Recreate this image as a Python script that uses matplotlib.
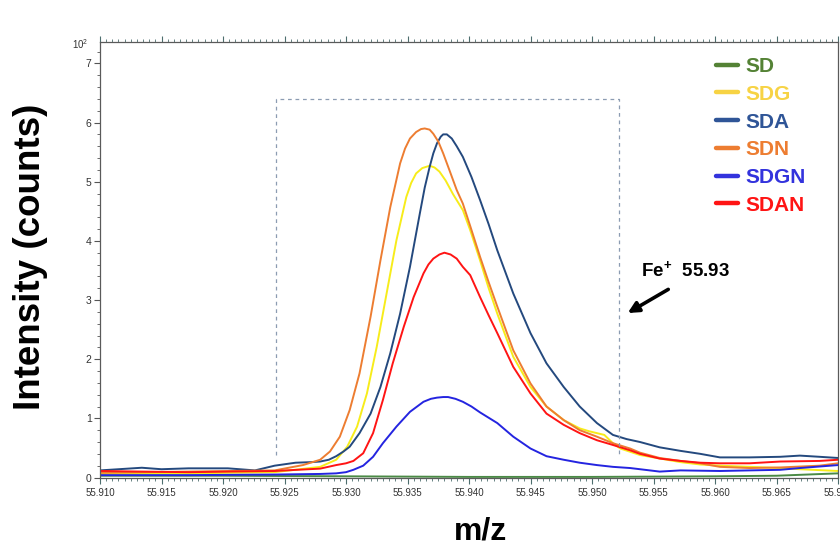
import matplotlib
matplotlib.use("Agg")
import matplotlib.pyplot as plt
from matplotlib.ticker import MultipleLocator, FormatStrFormatter
from matplotlib.font_manager import FontProperties

plt.rcParams['font.family'] = ['Liberation Sans', 'DejaVu Sans']
plt.rcParams['mathtext.fontset'] = 'custom'
plt.rcParams['mathtext.bf'] = 'Liberation Sans:bold'
plt.rcParams['mathtext.rm'] = 'Liberation Sans'

# ---------------- data (intensity in units of 10^2 counts) ----------------
sd_x = [55.9100, 55.9200, 55.9300, 55.9400, 55.9500, 55.9600, 55.9650, 55.9700]
sd_y = [0.03, 0.03, 0.02, 0.01, 0.01, 0.02, 0.03, 0.07]

sdg_x = [55.9100, 55.9172, 55.9242, 55.9279, 55.9292, 55.9301, 55.9309, 55.9317,
         55.9325, 55.9333, 55.9341, 55.9349, 55.9353, 55.9357, 55.9362, 55.9368,
         55.9372, 55.9376, 55.9381, 55.9387, 55.9395, 55.9401, 55.9409, 55.9416,
         55.9423, 55.9436, 55.9450, 55.9463, 55.9477, 55.9490, 55.9498, 55.9504,
         55.9510, 55.9517, 55.9523, 55.9539, 55.9572, 55.9588, 55.9604, 55.9628,
         55.9653, 55.9669, 55.9700]
sdg_y = [0.06, 0.07, 0.09, 0.18, 0.30, 0.52, 0.86, 1.42,
         2.21, 3.11, 4.01, 4.74, 4.98, 5.14, 5.23, 5.27,
         5.24, 5.17, 5.02, 4.79, 4.52, 4.18, 3.67, 3.20,
         2.77, 2.04, 1.53, 1.20, 0.97, 0.83, 0.78, 0.75,
         0.72, 0.58, 0.49, 0.38, 0.26, 0.22, 0.20, 0.18,
         0.16, 0.14, 0.11]

sda_x = [55.9100, 55.9134, 55.9150, 55.9172, 55.9204, 55.9226, 55.9242, 55.9259,
         55.9272, 55.9279, 55.9286, 55.9292, 55.9298, 55.9303, 55.9311, 55.9320,
         55.9328, 55.9336, 55.9344, 55.9352, 55.9360, 55.9364, 55.9368, 55.9371,
         55.9374, 55.9377, 55.9379, 55.9382, 55.9386, 55.9390, 55.9395, 55.9402,
         55.9409, 55.9416, 55.9423, 55.9436, 55.9450, 55.9463, 55.9477, 55.9490,
         55.9504, 55.9517, 55.9528, 55.9539, 55.9555, 55.9572, 55.9588, 55.9604,
         55.9628, 55.9653, 55.9669, 55.9685, 55.9700]
sda_y = [0.12, 0.165, 0.14, 0.155, 0.155, 0.12, 0.20, 0.25,
         0.26, 0.27, 0.30, 0.36, 0.44, 0.52, 0.75, 1.08,
         1.53, 2.10, 2.77, 3.56, 4.46, 4.90, 5.25, 5.48,
         5.65, 5.76, 5.80, 5.80, 5.73, 5.60, 5.42, 5.08,
         4.69, 4.28, 3.84, 3.11, 2.44, 1.93, 1.53, 1.20,
         0.92, 0.72, 0.65, 0.60, 0.51, 0.45, 0.40, 0.34,
         0.34, 0.35, 0.37, 0.35, 0.33]

sdn_x = [55.9100, 55.9172, 55.9242, 55.9265, 55.9279, 55.9287, 55.9295, 55.9303,
         55.9311, 55.9320, 55.9328, 55.9336, 55.9344, 55.9348, 55.9352, 55.9357,
         55.9361, 55.9364, 55.9368, 55.9371, 55.9375, 55.9379, 55.9384, 55.9390,
         55.9395, 55.9401, 55.9409, 55.9416, 55.9423, 55.9436, 55.9450, 55.9463,
         55.9477, 55.9490, 55.9504, 55.9517, 55.9531, 55.9539, 55.9555, 55.9572,
         55.9588, 55.9604, 55.9628, 55.9653, 55.9685, 55.9700]
sdn_y = [0.08, 0.10, 0.12, 0.21, 0.30, 0.44, 0.69, 1.14,
         1.76, 2.72, 3.67, 4.57, 5.31, 5.56, 5.73, 5.84,
         5.89, 5.90, 5.88, 5.81, 5.68, 5.48, 5.20, 4.86,
         4.63, 4.25, 3.73, 3.30, 2.89, 2.15, 1.59, 1.20,
         0.97, 0.80, 0.69, 0.58, 0.49, 0.42, 0.33, 0.28,
         0.24, 0.18, 0.16, 0.17, 0.20, 0.24]

sdgn_x = [55.9100, 55.9172, 55.9242, 55.9279, 55.9292, 55.9300, 55.9306, 55.9314,
          55.9322, 55.9330, 55.9341, 55.9352, 55.9363, 55.9369, 55.9374, 55.9379,
          55.9383, 55.9389, 55.9395, 55.9402, 55.9409, 55.9423, 55.9436, 55.9450,
          55.9463, 55.9477, 55.9490, 55.9504, 55.9517, 55.9531, 55.9539, 55.9555,
          55.9572, 55.9604, 55.9628, 55.9653, 55.9669, 55.9700]
sdgn_y = [0.04, 0.04, 0.05, 0.06, 0.07, 0.09, 0.13, 0.20,
          0.35, 0.58, 0.86, 1.11, 1.28, 1.33, 1.35, 1.36,
          1.36, 1.33, 1.28, 1.20, 1.10, 0.92, 0.69, 0.49,
          0.36, 0.30, 0.25, 0.21, 0.18, 0.16, 0.14, 0.10,
          0.12, 0.11, 0.12, 0.13, 0.16, 0.21]

sdan_x = [55.9100, 55.9134, 55.9172, 55.9204, 55.9242, 55.9279, 55.9292, 55.9300,
          55.9306, 55.9314, 55.9322, 55.9330, 55.9338, 55.9347, 55.9355, 55.9363,
          55.9367, 55.9371, 55.9376, 55.9380, 55.9385, 55.9390, 55.9395, 55.9401,
          55.9409, 55.9416, 55.9423, 55.9436, 55.9450, 55.9463, 55.9477, 55.9490,
          55.9504, 55.9517, 55.9531, 55.9539, 55.9555, 55.9572, 55.9588, 55.9604,
          55.9628, 55.9653, 55.9685, 55.9700]
sdan_y = [0.11, 0.10, 0.09, 0.10, 0.11, 0.15, 0.21, 0.24,
          0.28, 0.41, 0.75, 1.31, 1.93, 2.55, 3.05, 3.45,
          3.60, 3.70, 3.77, 3.80, 3.77, 3.70, 3.56, 3.42,
          3.05, 2.74, 2.44, 1.87, 1.42, 1.08, 0.89, 0.75,
          0.63, 0.55, 0.46, 0.40, 0.32, 0.28, 0.25, 0.24,
          0.24, 0.27, 0.28, 0.30]

labels = ["SD", "SDG", "SDA", "SDN", "SDGN", "SDAN"]
line_colors = ["#4a8a45", "#F7EC1A", "#24497E", "#ED7D31", "#2424E0", "#FF1414"]
legend_colors = ["#548235", "#F7D344", "#2F5597", "#ED7D31", "#3333DD", "#FF1414"]

# region box (Fe+ peak window) and annotation
box_x = [55.9243, 55.9243, 55.9522, 55.9522]
box_y = [0.38, 6.39, 6.39, 0.38]
arrow_tail = (55.9562, 3.18)
arrow_head = (55.9529, 2.78)
label_pos = (55.9540, 3.50)

# ---------------- figure ----------------
fig = plt.figure(figsize=(8.4, 5.46), dpi=100)
ax = fig.add_axes([100 / 840, 1 - 477.5 / 546, 738 / 840, 436 / 546])

series = [(sd_x, sd_y), (sdg_x, sdg_y), (sda_x, sda_y),
          (sdn_x, sdn_y), (sdgn_x, sdgn_y), (sdan_x, sdan_y)]
handles = []
for (xs, ys), lab, col in zip(series, labels, line_colors):
    h, = ax.plot(xs, ys, color=col, lw=1.4, label=lab,
                 solid_joinstyle='round', solid_capstyle='round')
    handles.append(h)

ax.plot(box_x, box_y, ls=(0, (3, 3)), color="#8C9CB2", lw=0.9)

ax.annotate("", xy=arrow_head, xytext=arrow_tail,
            arrowprops=dict(arrowstyle="-|>", lw=2.6, color="black",
                            mutation_scale=16, shrinkA=0, shrinkB=0))
ax.text(label_pos[0], label_pos[1], r"$\mathbf{Fe}^{\mathbf{+}}$  $\mathbf{55.93}$",
        fontsize=13.5, ha="left", va="center", color="black")

ax.set_xlim(55.910, 55.970)
ax.set_ylim(0, 7.37)

ax.xaxis.set_major_locator(MultipleLocator(0.005))
ax.xaxis.set_minor_locator(MultipleLocator(0.0005))
ax.xaxis.set_major_formatter(FormatStrFormatter("%.3f"))
ax.yaxis.set_major_locator(MultipleLocator(1))
ax.yaxis.set_minor_locator(MultipleLocator(0.2))

spine_col = "#5a5a5a"
for s in ax.spines.values():
    s.set_color(spine_col)
    s.set_linewidth(0.9)

ax.tick_params(axis="x", which="both", direction="out", top=True, colors="#4d6e6e",
               labelcolor="#333333", labelsize=7)
ax.tick_params(axis="x", which="major", length=4, width=0.8)
ax.tick_params(axis="x", which="minor", length=2.5, width=0.6)
ax.tick_params(axis="y", which="both", direction="out", colors="#555555",
               labelcolor="#333333", labelsize=7.5)
ax.tick_params(axis="y", which="major", length=4, width=0.8, pad=2)
ax.tick_params(axis="y", which="minor", length=2.2, width=0.6)

fig.text(88 / 840, 1 - 44 / 546, r"10$^2$", fontsize=7, color="#333333",
         ha="right", va="center")

leg = ax.legend(handles=handles, loc="upper left",
                bbox_to_anchor=(716 / 840, 1 - 57 / 546), bbox_transform=fig.transFigure,
                frameon=False,
                prop=FontProperties(family="Liberation Sans", weight="bold", size=15),
                handlelength=1.05, handletextpad=0.35, labelspacing=0.42,
                borderpad=0, borderaxespad=0)
for txt, lline, col in zip(leg.get_texts(), leg.get_lines(), legend_colors):
    txt.set_color(col)
    lline.set_color(col)
    lline.set_linewidth(3.2)

fig.text(31 / 840, 1 - 257 / 546, "Intensity (counts)", rotation=90, fontsize=26.5,
         fontweight="bold", ha="center", va="center", color="black")
fig.text(480 / 840, 1 - 532 / 546, "m/z", fontsize=23, fontweight="bold",
         ha="center", va="center", color="black")

fig.savefig("out.png", dpi=100, facecolor="white")
